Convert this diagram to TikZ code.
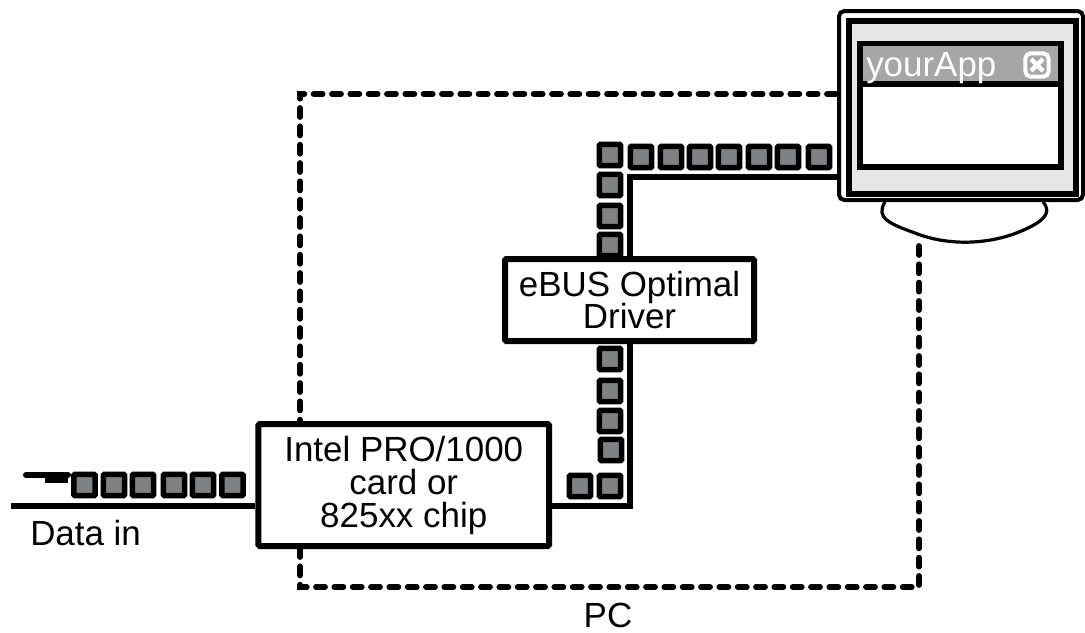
\documentclass[tikz,border=0pt]{standalone}
\usetikzlibrary{calc}
\usepackage{fontspec}
\setmainfont{Liberation Sans}
\definecolor{pktgray}{HTML}{7F8284}
\definecolor{bezel}{HTML}{E6E6E6}
\definecolor{titlegray}{HTML}{A5A6A8}
\newcommand{\lbl}{\fontsize{26.2pt}{24.75pt}\selectfont}
\begin{document}
\begin{tikzpicture}[x=0.75pt,y=-0.75pt,
  pkt/.style={draw=black,fill=pktgray,line width=4.1pt,minimum size=16pt,inner sep=0pt,rounded corners=0.8pt},
  wire/.style={draw=black,line width=4.2pt},
  boxnode/.style={draw=black,fill=white,line width=4.5pt,inner sep=0pt,align=center,font=\lbl,rounded corners=1pt},
  txt/.style={inner sep=0pt,font=\lbl,text=black},
  pcbound/.style={draw=black,line width=4.3pt,line cap=round,dash pattern=on 6.8pt off 6.95pt}]
\useasboundingbox (0,0) rectangle (1085,632);
\fill[white] (0,0) rectangle (1085,632);

% named corner points
\coordinate (pcA) at (836,94);
\coordinate (pcB) at (300,94);
\coordinate (pcC) at (300,587);
\coordinate (pcD) at (919,587);
\coordinate (pcE) at (919,243);
\coordinate (dataStart) at (11,506);
\coordinate (wireCorner) at (630,506);
\coordinate (wireTop) at (630,177);

% PC boundary
\draw[pcbound] (pcA) -- (pcB) -- (pcC) -- (pcD) -- (pcE);

% monitor stand
\coordinate (standL) at (885,202);
\coordinate (standR) at (1043,202);
\draw[draw=black,line width=2.4pt,fill=white] (standL) .. controls (875,218) and (890,224) .. (915,233)
  .. controls (950,247) and (995,245) .. (1030,227) .. controls (1048,218) and (1050,210) .. (standR);

% monitor
\node[draw=black,fill=white,line width=3pt,rounded corners=4pt,minimum width=183pt,minimum height=141.75pt,inner sep=0pt] (monitor) at (961,105.5) {};
\node[draw=black,fill=bezel,line width=4.5pt,minimum width=170.25pt,minimum height=129.75pt,inner sep=0pt] (bezel) at (962,107) {};
\node[draw=black,fill=white,line width=4.5pt,minimum width=150.75pt,minimum height=92.6pt,inner sep=0pt] (window) at (960.5,105.25) {};
\node[fill=titlegray,minimum width=146.25pt,minimum height=26.25pt,inner sep=0pt] (titlebar) at (960.5,63.5) {};
\coordinate (divL) at (860,84);
\coordinate (divR) at (1061,84);
\draw[draw=black,line width=4.5pt] (divL) -- (divR);
\node[txt,text=white,anchor=base west] (apptitle) at (866,76) {yourApp};
\node[draw=white,fill=titlegray,line width=3pt,rounded corners=4pt,minimum size=17.5pt,inner sep=0pt] (closebtn) at (1037,65) {};
\draw[white,line width=3.2pt] ($(closebtn)+(-6,-6)$) -- ($(closebtn)+(6,6)$);
\draw[white,line width=3.2pt] ($(closebtn)+(-6,6)$) -- ($(closebtn)+(6,-6)$);

% wires
\node[boxnode,minimum width=217.9pt,minimum height=91.5pt] (card) at (403.75,485) {};
\draw[wire] (dataStart) -- (dataStart -| card.west);
\draw[wire] (card.east |- wireCorner) -- (wireCorner) -- (wireTop) -- (wireTop -| monitor.west);

% packets
\foreach \n/\x/\y in {t0/610/155,t1/641/157,t2/671/157,t3/700/157,t4/729/157,t5/759/157,t6/788/157,t7/819/157,
  v1/610/185,v2/610/216,v3/610/245,
  u1/610/359,u2/610/391,u3/610/421,u4/611/450,u5/610/486,u6/580/486,
  d1/84.5/485,d2/114/485,d3/143/485,d4/174/485,d5/203/485,d6/232.5/485}
  \node[pkt] (p\n) at (\x,\y) {};

% driver box above the packets
\node[boxnode,minimum width=186.75pt,minimum height=61.5pt] (driver) at (629.5,300) {eBUS Optimal\\[-0.5pt]Driver};
\node[txt,align=center] (cardtext) at (card.center) {Intel PRO/1000\\card or\\825xx chip};

% source stub
\coordinate (stubA) at (26,475);
\coordinate (stubB) at (68,475);
\coordinate (stubC) at (45,479);
\coordinate (stubD) at (68,479);
\draw[draw=black,line width=4.5pt,line cap=round] (stubA) -- (stubB);
\draw[draw=black,line width=5.5pt] (stubC) -- (stubD);

% labels
\node[txt,anchor=base west] (datain) at (30,545) {Data in};
\node[txt] (pclabel) at (608,615) {PC};
\end{tikzpicture}
\end{document}
